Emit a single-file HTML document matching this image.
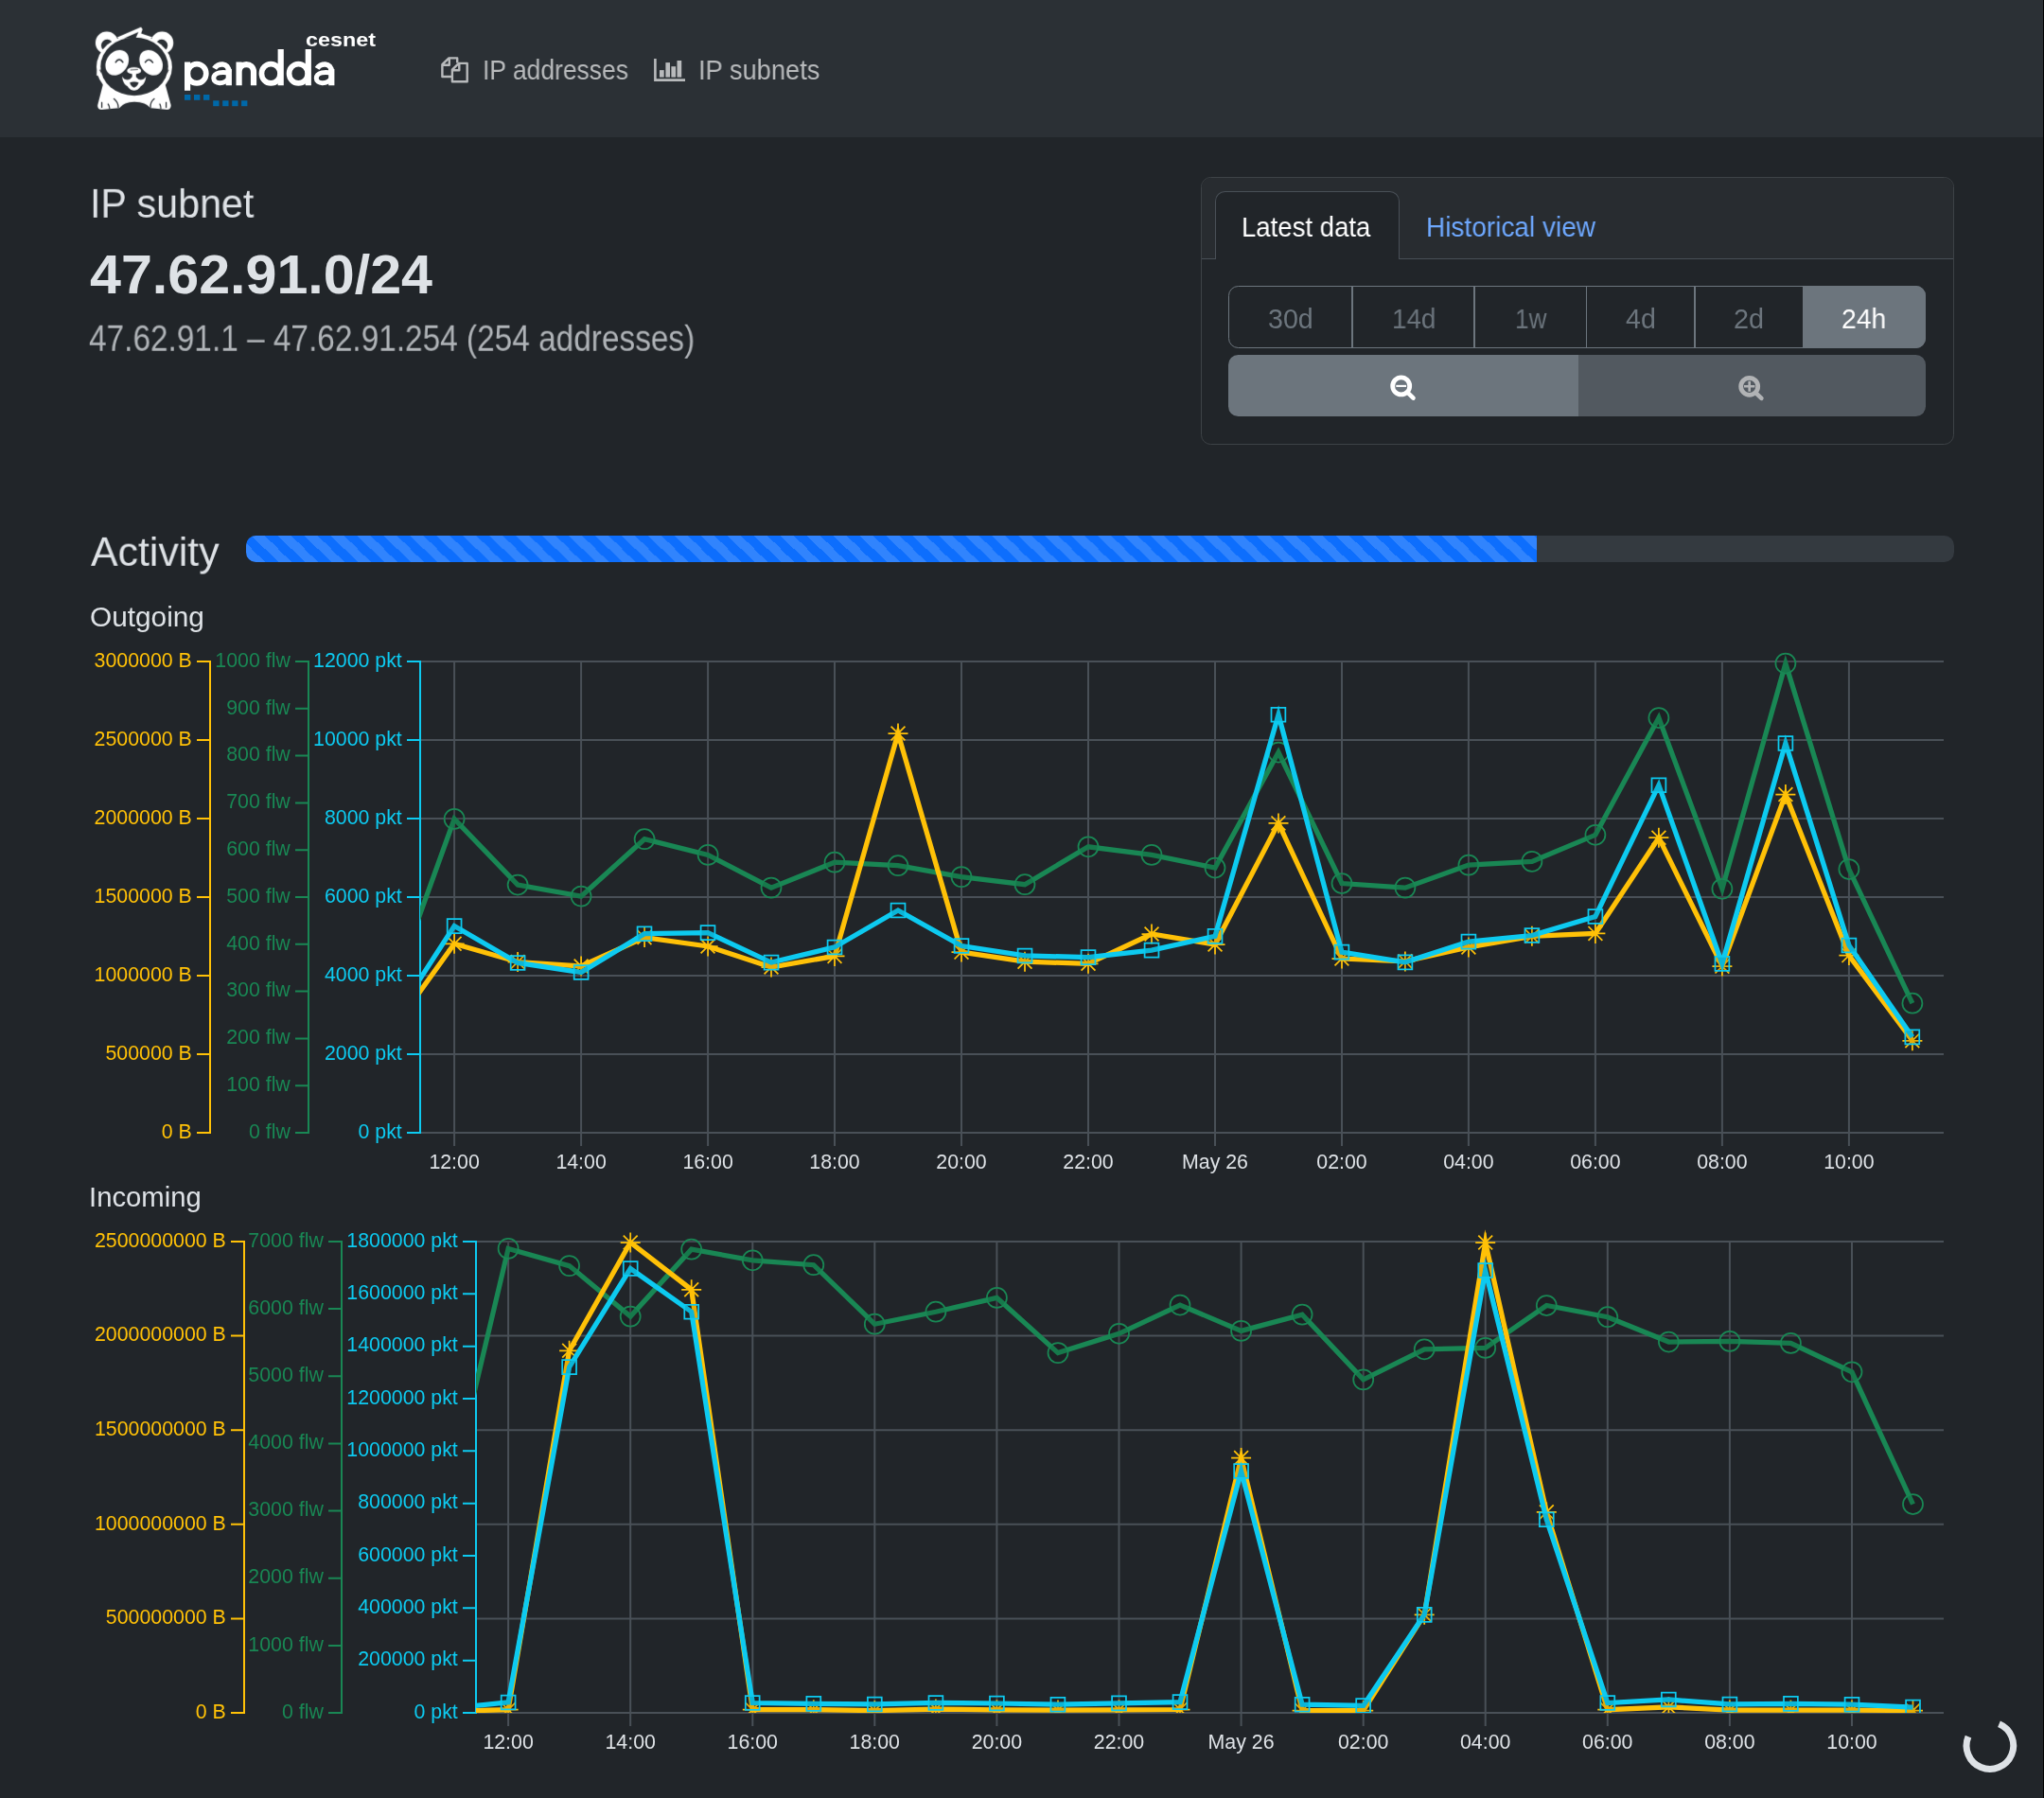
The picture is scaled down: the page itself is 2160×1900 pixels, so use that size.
<!DOCTYPE html>
<html lang="en"><head><meta charset="utf-8"><title>PANDDA - IP subnet 47.62.91.0/24</title>
<style>
html,body{margin:0;padding:0;}
body{width:2160px;height:1900px;background:#212529;position:relative;overflow:hidden;font-family:"Liberation Sans", sans-serif;color:#dee2e6;}
.abs{position:absolute;}
.t{position:absolute;display:block;margin:0;padding:0;font-weight:normal;text-decoration:none;white-space:nowrap;line-height:1;transform-origin:0 0;will-change:transform;}
nav{position:absolute;left:0;top:0;width:2160px;height:145px;background:#2b3035;}
.card{position:absolute;left:1269px;top:187px;width:794px;height:281px;border:1px solid #3d4246;border-radius:10.5px;box-sizing:content-box;}
.card-header{position:absolute;left:0;top:0;width:794px;height:85px;background:#282c30;border-bottom:1px solid #495057;border-radius:9.5px 9.5px 0 0;}
.tab-active{position:absolute;left:14px;top:14px;width:193px;height:71px;background:#212529;border:1px solid #495057;border-bottom:none;border-radius:10.5px 10.5px 0 0;}
.bg{position:absolute;left:1298px;top:302px;width:737px;height:66px;box-sizing:border-box;border:1px solid #6c757d;border-radius:10.5px;}
.bg i{position:absolute;top:0;width:2px;height:64px;background:#6c757d;}
.bg b{position:absolute;left:606px;top:-1px;width:130px;height:66px;background:#6c757d;border-radius:0 10.5px 10.5px 0;}
.zo{position:absolute;left:1298px;top:375px;width:370px;height:65px;background:#6c757d;border-radius:10.5px 0 0 10.5px;}
.zi{position:absolute;left:1668px;top:375px;width:367px;height:65px;background:#525960;border-radius:0 10.5px 10.5px 0;}
.progress{position:absolute;left:260px;top:566px;width:1805px;height:28px;background:#343a40;border-radius:10.5px;overflow:hidden;}
.bar{width:1364px;height:28px;background-color:#0d6efd;background-image:linear-gradient(45deg,rgba(255,255,255,.15) 25%,transparent 25%,transparent 50%,rgba(255,255,255,.15) 50%,rgba(255,255,255,.15) 75%,transparent 75%,transparent);background-size:27.96px 28px;background-position:6px 0;}
svg{position:absolute;left:0;top:0;will-change:transform;}
svg text{font-family:"Liberation Sans", sans-serif;}
.edge{position:absolute;left:2159px;top:0;width:1px;height:1900px;background:#000;}
</style></head>
<body>
<nav></nav>
<div class="card"><div class="card-header"><div class="tab-active"></div></div></div>
<div class="bg"><i style="left:129px"></i><i style="left:258px"></i><i style="left:377px;width:1px"></i><i style="left:491px"></i><b></b></div>
<div class="zo"></div><div class="zi"></div>
<div class="progress"><div class="bar"></div></div>
<svg width="2160" height="1900" viewBox="0 0 2160 1900">
<!-- panda logo -->
<svg x="90" y="20" width="110" height="105" viewBox="0 0 1884 1798">
<g fill="#fff">
<circle cx="390" cy="431" r="204"/><circle cx="1392" cy="431" r="204"/>
</g>
<g fill="#2b3035"><circle cx="398" cy="478" r="108"/><circle cx="1384" cy="478" r="108"/></g>
<g fill="#fff">
<path d="M575 335L1000 150Q1030 150 1038 190L1012 262L1215 330L1100 420L700 420Z"/>
<ellipse cx="888" cy="868" rx="684" ry="572"/>
<path d="M330 1150L1440 1150L1552 1560Q1556 1640 1480 1640L1180 1612Q1100 1500 890 1500Q700 1500 620 1612L300 1642Q215 1640 225 1560Z"/>
<path d="M215 930L205 1020L260 1040L270 940Z"/>
</g>
<g fill="#2b3035">
<ellipse cx="890" cy="860" rx="612" ry="526"/>
<path d="M700 352L964 236L918 338Z"/>
<path d="M275 900L300 1000L262 930Z"/><path d="M1500 900L1478 1000L1512 930Z"/>
</g>
<g fill="#fff">
<ellipse cx="577" cy="790" rx="193" ry="246" transform="rotate(35 577 790)"/>
<ellipse cx="1192" cy="790" rx="193" ry="246" transform="rotate(-35 1192 790)"/>
<ellipse cx="885" cy="937" rx="128" ry="63"/>
<path d="M850 985H920V1070H850Z"/>
<path d="M668 1040C700 1095 760 1112 805 1092L850 1050L920 1050L965 1092C1010 1112 1070 1095 1100 1040C1092 1140 1045 1200 1005 1215C965 1280 925 1292 885 1292C845 1292 805 1280 765 1215C725 1200 676 1140 668 1040Z"/>
</g>
<g fill="#2b3035"><path d="M806 1152Q885 1118 968 1152Q940 1226 885 1242Q830 1226 806 1152Z"/></g>
<g fill="none" stroke="#2b3035" stroke-linecap="round">
<path d="M552 782Q615 690 680 780" stroke-width="28"/>
<path d="M1088 782Q1152 690 1222 786" stroke-width="28"/>
<path d="M822 921L948 914" stroke-width="14"/>
<path d="M520 1445Q600 1510 598 1600M300 1510V1600M415 1540Q440 1580 440 1620" stroke-width="22"/>
<path d="M1250 1445Q1170 1510 1182 1600M1465 1510V1600M1352 1540Q1370 1580 1368 1620" stroke-width="22"/>
</g>
</svg>
<!-- cesnet dots -->
<g fill="#0068a8">
<rect x="195" y="100" width="6.4" height="5.8"/><rect x="205" y="100" width="6.4" height="5.8"/><rect x="215" y="100" width="6.4" height="5.8"/>
<rect x="225.2" y="106.3" width="6.3" height="5.9"/><rect x="235.2" y="106.3" width="6.3" height="5.9"/><rect x="245.2" y="106.3" width="6.3" height="5.9"/><rect x="255.1" y="106.3" width="6.3" height="5.9"/>
</g>
<!-- copy icon -->
<g fill="none" stroke="#b8babc" stroke-width="2.4" stroke-linejoin="round">
<path d="M477.5 81H467.4V68.2L474.4 61.4H483.2V66.5M467.4 68.8H474.8V61.6"/>
<path d="M477.9 86.3V73.6L484.9 66.9H493.7V86.3ZM477.9 74.2H485.3V67"/>
</g>
<!-- bar chart icon -->
<path d="M692.4 62V84.6H724" fill="none" stroke="#b8babc" stroke-width="2.6"/>
<g fill="#b8babc"><rect x="697" y="74.1" width="4.7" height="7.5"/><rect x="703.4" y="66.1" width="4.6" height="15.5"/><rect x="709.4" y="70.2" width="4.7" height="11.4"/><rect x="715.5" y="64" width="4.7" height="17.6"/></g>
<!-- zoom out / zoom in icons -->
<g fill="none" stroke="#fff" stroke-linecap="round">
<circle cx="1480.7" cy="407.9" r="9" stroke-width="4.8"/><path d="M1487.6 414.9L1493.5 420.6" stroke-width="4.6"/><path d="M1475.3 407.9H1486.1" stroke-width="2.1" stroke-linecap="butt"/>
</g>
<g fill="none" stroke="#b1b3b5" stroke-linecap="round">
<circle cx="1848.7" cy="408.3" r="9" stroke-width="4.8"/><path d="M1855.6 415.3L1861.4 420.9" stroke-width="4.6"/><path d="M1843 408.3H1854.4M1848.7 402.8V413.8" stroke-width="2.6" stroke-linecap="butt"/>
</g>
<!-- pandda wordmark -->
<g fill="none" stroke="#fff"><path d="M198.1 65.6V95.7M252.6 65.6V90.3M252.6 76C252.6 65.4 268 65.4 268 76V90.3M296.7 52.1V90.3M325.8 52.1V90.3M241.8 73V90.3M350.3 73V90.3" stroke-width="6.2"/><path d="M198.2 77.75a9.8 10.2 0 1 0 19.6 0a9.8 10.2 0 1 0 -19.6 0M276.45 77.75a9.8 10.2 0 1 0 19.6 0a9.8 10.2 0 1 0 -19.6 0M305.55 77.75a9.8 10.2 0 1 0 19.6 0a9.8 10.2 0 1 0 -19.6 0" stroke-width="5.7"/><path d="M226.6 72.4C229.8 66.8 241.8 65.2 241.8 76M335.1 72.4C338.3 66.8 350.3 65.2 350.3 76" stroke-width="5.6"/><path d="M241.8 77.2C236 75.7 225.8 76.1 225.8 82.7C225.8 88.9 237 89.7 241.8 82.6M350.3 77.2C344.5 75.7 334.3 76.1 334.3 82.7C334.3 88.9 345.5 89.7 350.3 82.6" stroke-width="5"/></g>

<g font-size="21.35">
<path d="M444 699H2054M444 782H2054M444 865H2054M444 948H2054M444 1031H2054M444 1114H2054M444 1197H2054M480.1 698V1211M614.1 698V1211M748.1 698V1211M882 698V1211M1016 698V1211M1150 698V1211M1284 698V1211M1418 698V1211M1551.9 698V1211M1685.9 698V1211M1819.9 698V1211M1953.9 698V1211" stroke="#495057" stroke-width="2" fill="none"/>
<text x="480.1" y="1234.8" text-anchor="middle" fill="#dee2e6">12:00</text>
<text x="614.1" y="1234.8" text-anchor="middle" fill="#dee2e6">14:00</text>
<text x="748.1" y="1234.8" text-anchor="middle" fill="#dee2e6">16:00</text>
<text x="882" y="1234.8" text-anchor="middle" fill="#dee2e6">18:00</text>
<text x="1016" y="1234.8" text-anchor="middle" fill="#dee2e6">20:00</text>
<text x="1150" y="1234.8" text-anchor="middle" fill="#dee2e6">22:00</text>
<text x="1284" y="1234.8" text-anchor="middle" fill="#dee2e6">May 26</text>
<text x="1418" y="1234.8" text-anchor="middle" fill="#dee2e6">02:00</text>
<text x="1551.9" y="1234.8" text-anchor="middle" fill="#dee2e6">04:00</text>
<text x="1685.9" y="1234.8" text-anchor="middle" fill="#dee2e6">06:00</text>
<text x="1819.9" y="1234.8" text-anchor="middle" fill="#dee2e6">08:00</text>
<text x="1953.9" y="1234.8" text-anchor="middle" fill="#dee2e6">10:00</text>
<path d="M222 698V1198M208 699H222M208 782H222M208 865H222M208 948H222M208 1031H222M208 1114H222M208 1197H222" stroke="#ffc107" stroke-width="2" fill="none"/>
<text x="202.8" y="704.7" text-anchor="end" fill="#ffc107">3000000 B</text>
<text x="202.8" y="787.7" text-anchor="end" fill="#ffc107">2500000 B</text>
<text x="202.8" y="870.7" text-anchor="end" fill="#ffc107">2000000 B</text>
<text x="202.8" y="953.7" text-anchor="end" fill="#ffc107">1500000 B</text>
<text x="202.8" y="1036.7" text-anchor="end" fill="#ffc107">1000000 B</text>
<text x="202.8" y="1119.7" text-anchor="end" fill="#ffc107">500000 B</text>
<text x="202.8" y="1202.7" text-anchor="end" fill="#ffc107">0 B</text>
<path d="M326 698V1198M312 699H326M312 748.8H326M312 798.6H326M312 848.4H326M312 898.2H326M312 948H326M312 997.8H326M312 1047.6H326M312 1097.4H326M312 1147.2H326M312 1197H326" stroke="#198754" stroke-width="2" fill="none"/>
<text x="306.8" y="704.7" text-anchor="end" fill="#198754">1000 flw</text>
<text x="306.8" y="754.5" text-anchor="end" fill="#198754">900 flw</text>
<text x="306.8" y="804.3" text-anchor="end" fill="#198754">800 flw</text>
<text x="306.8" y="854.1" text-anchor="end" fill="#198754">700 flw</text>
<text x="306.8" y="903.9" text-anchor="end" fill="#198754">600 flw</text>
<text x="306.8" y="953.7" text-anchor="end" fill="#198754">500 flw</text>
<text x="306.8" y="1003.5" text-anchor="end" fill="#198754">400 flw</text>
<text x="306.8" y="1053.3" text-anchor="end" fill="#198754">300 flw</text>
<text x="306.8" y="1103.1" text-anchor="end" fill="#198754">200 flw</text>
<text x="306.8" y="1152.9" text-anchor="end" fill="#198754">100 flw</text>
<text x="306.8" y="1202.7" text-anchor="end" fill="#198754">0 flw</text>
<path d="M444 698V1198M430 699H444M430 782H444M430 865H444M430 948H444M430 1031H444M430 1114H444M430 1197H444" stroke="#0dcaf0" stroke-width="2" fill="none"/>
<text x="424.8" y="704.7" text-anchor="end" fill="#0dcaf0">12000 pkt</text>
<text x="424.8" y="787.7" text-anchor="end" fill="#0dcaf0">10000 pkt</text>
<text x="424.8" y="870.7" text-anchor="end" fill="#0dcaf0">8000 pkt</text>
<text x="424.8" y="953.7" text-anchor="end" fill="#0dcaf0">6000 pkt</text>
<text x="424.8" y="1036.7" text-anchor="end" fill="#0dcaf0">4000 pkt</text>
<text x="424.8" y="1119.7" text-anchor="end" fill="#0dcaf0">2000 pkt</text>
<text x="424.8" y="1202.7" text-anchor="end" fill="#0dcaf0">0 pkt</text>
<clipPath id="clip1"><rect x="444" y="679" width="1610" height="518"/></clipPath>
<g clip-path="url(#clip1)" fill="none" stroke-linejoin="miter" stroke-miterlimit="10">
<polyline points="413.1,1051.2 480.1,865.4 547.1,935 614.1,947.1 681.1,886.7 748.1,903.4 815,938.1 882,911.2 949,914.7 1016,926.6 1083,934.7 1150,894.8 1217,903.4 1284,917 1351,795 1418,933.5 1484.9,938.1 1551.9,914.1 1618.9,910.4 1685.9,882.3 1752.9,758.5 1819.9,939.3 1886.9,701 1953.9,918.5 2020.9,1060.2" stroke="#198754" stroke-width="5.25"/>
<path d="M469.6 865.4a10.5 10.5 0 1 0 21 0a10.5 10.5 0 1 0 -21 0M536.6 935a10.5 10.5 0 1 0 21 0a10.5 10.5 0 1 0 -21 0M603.6 947.1a10.5 10.5 0 1 0 21 0a10.5 10.5 0 1 0 -21 0M670.6 886.7a10.5 10.5 0 1 0 21 0a10.5 10.5 0 1 0 -21 0M737.6 903.4a10.5 10.5 0 1 0 21 0a10.5 10.5 0 1 0 -21 0M804.5 938.1a10.5 10.5 0 1 0 21 0a10.5 10.5 0 1 0 -21 0M871.5 911.2a10.5 10.5 0 1 0 21 0a10.5 10.5 0 1 0 -21 0M938.5 914.7a10.5 10.5 0 1 0 21 0a10.5 10.5 0 1 0 -21 0M1005.5 926.6a10.5 10.5 0 1 0 21 0a10.5 10.5 0 1 0 -21 0M1072.5 934.7a10.5 10.5 0 1 0 21 0a10.5 10.5 0 1 0 -21 0M1139.5 894.8a10.5 10.5 0 1 0 21 0a10.5 10.5 0 1 0 -21 0M1206.5 903.4a10.5 10.5 0 1 0 21 0a10.5 10.5 0 1 0 -21 0M1273.5 917a10.5 10.5 0 1 0 21 0a10.5 10.5 0 1 0 -21 0M1340.5 795a10.5 10.5 0 1 0 21 0a10.5 10.5 0 1 0 -21 0M1407.5 933.5a10.5 10.5 0 1 0 21 0a10.5 10.5 0 1 0 -21 0M1474.4 938.1a10.5 10.5 0 1 0 21 0a10.5 10.5 0 1 0 -21 0M1541.4 914.1a10.5 10.5 0 1 0 21 0a10.5 10.5 0 1 0 -21 0M1608.4 910.4a10.5 10.5 0 1 0 21 0a10.5 10.5 0 1 0 -21 0M1675.4 882.3a10.5 10.5 0 1 0 21 0a10.5 10.5 0 1 0 -21 0M1742.4 758.5a10.5 10.5 0 1 0 21 0a10.5 10.5 0 1 0 -21 0M1809.4 939.3a10.5 10.5 0 1 0 21 0a10.5 10.5 0 1 0 -21 0M1876.4 701a10.5 10.5 0 1 0 21 0a10.5 10.5 0 1 0 -21 0M1943.4 918.5a10.5 10.5 0 1 0 21 0a10.5 10.5 0 1 0 -21 0M2010.4 1060.2a10.5 10.5 0 1 0 21 0a10.5 10.5 0 1 0 -21 0" stroke="#198754" stroke-width="1.75" fill="rgba(0,0,0,.1)"/>
<polyline points="413.1,1090.6 480.1,997.3 547.1,1016.5 614.1,1021 681.1,990.6 748.1,1000 815,1022 882,1010.4 949,775 1016,1006.1 1083,1016.2 1150,1018.3 1217,987 1284,998 1351,869.9 1418,1013 1484.9,1015.9 1551.9,1000.9 1618.9,989.3 1685.9,986.4 1752.9,885.2 1819.9,1021.1 1886.9,839.5 1953.9,1009.6 2020.9,1099.8" stroke="#ffc107" stroke-width="5.25"/>
<path d="M469.6 997.3h21M480.1 986.8v21M472.7 989.9l14.84 14.84M472.7 1004.7l14.84 -14.84M536.6 1016.5h21M547.1 1006v21M539.7 1009.1l14.84 14.84M539.7 1023.9l14.84 -14.84M603.6 1021h21M614.1 1010.5v21M606.7 1013.6l14.84 14.84M606.7 1028.4l14.84 -14.84M670.6 990.6h21M681.1 980.1v21M673.6 983.2l14.84 14.84M673.6 998l14.84 -14.84M737.6 1000h21M748.1 989.5v21M740.6 992.6l14.84 14.84M740.6 1007.4l14.84 -14.84M804.5 1022h21M815 1011.5v21M807.6 1014.6l14.84 14.84M807.6 1029.4l14.84 -14.84M871.5 1010.4h21M882 999.9v21M874.6 1003l14.84 14.84M874.6 1017.8l14.84 -14.84M938.5 775h21M949 764.5v21M941.6 767.6l14.84 14.84M941.6 782.4l14.84 -14.84M1005.5 1006.1h21M1016 995.6v21M1008.6 998.7l14.84 14.84M1008.6 1013.5l14.84 -14.84M1072.5 1016.2h21M1083 1005.7v21M1075.6 1008.8l14.84 14.84M1075.6 1023.6l14.84 -14.84M1139.5 1018.3h21M1150 1007.8v21M1142.6 1010.9l14.84 14.84M1142.6 1025.7l14.84 -14.84M1206.5 987h21M1217 976.5v21M1209.6 979.6l14.84 14.84M1209.6 994.4l14.84 -14.84M1273.5 998h21M1284 987.5v21M1276.6 990.6l14.84 14.84M1276.6 1005.4l14.84 -14.84M1340.5 869.9h21M1351 859.4v21M1343.5 862.5l14.84 14.84M1343.5 877.3l14.84 -14.84M1407.5 1013h21M1418 1002.5v21M1410.5 1005.6l14.84 14.84M1410.5 1020.4l14.84 -14.84M1474.4 1015.9h21M1484.9 1005.4v21M1477.5 1008.5l14.84 14.84M1477.5 1023.3l14.84 -14.84M1541.4 1000.9h21M1551.9 990.4v21M1544.5 993.5l14.84 14.84M1544.5 1008.3l14.84 -14.84M1608.4 989.3h21M1618.9 978.8v21M1611.5 981.9l14.84 14.84M1611.5 996.7l14.84 -14.84M1675.4 986.4h21M1685.9 975.9v21M1678.5 979l14.84 14.84M1678.5 993.8l14.84 -14.84M1742.4 885.2h21M1752.9 874.7v21M1745.5 877.8l14.84 14.84M1745.5 892.6l14.84 -14.84M1809.4 1021.1h21M1819.9 1010.6v21M1812.5 1013.7l14.84 14.84M1812.5 1028.5l14.84 -14.84M1876.4 839.5h21M1886.9 829v21M1879.5 832.1l14.84 14.84M1879.5 846.9l14.84 -14.84M1943.4 1009.6h21M1953.9 999.1v21M1946.5 1002.2l14.84 14.84M1946.5 1017l14.84 -14.84M2010.4 1099.8h21M2020.9 1089.3v21M2013.4 1092.4l14.84 14.84M2013.4 1107.2l14.84 -14.84" stroke="#ffc107" stroke-width="1.75"/>
<polyline points="413.1,1081.8 480.1,978.6 547.1,1017.4 614.1,1027.5 681.1,986.7 748.1,985.6 815,1017.1 882,1000.9 949,961.9 1016,999.5 1083,1009.9 1150,1011.6 1217,1004.1 1284,989.3 1351,755.2 1418,1006.1 1484.9,1016.8 1551.9,995.1 1618.9,988.5 1685.9,968.5 1752.9,829.7 1819.9,1018.3 1886.9,785.4 1953.9,998.9 2020.9,1095.8" stroke="#0dcaf0" stroke-width="5.25"/>
<path d="M472.7 971.2h14.85v14.85h-14.85zM539.7 1010h14.85v14.85h-14.85zM606.7 1020.1h14.85v14.85h-14.85zM673.6 979.3h14.85v14.85h-14.85zM740.6 978.2h14.85v14.85h-14.85zM807.6 1009.7h14.85v14.85h-14.85zM874.6 993.5h14.85v14.85h-14.85zM941.6 954.5h14.85v14.85h-14.85zM1008.6 992.1h14.85v14.85h-14.85zM1075.6 1002.5h14.85v14.85h-14.85zM1142.6 1004.2h14.85v14.85h-14.85zM1209.6 996.7h14.85v14.85h-14.85zM1276.6 981.9h14.85v14.85h-14.85zM1343.5 747.8h14.85v14.85h-14.85zM1410.5 998.7h14.85v14.85h-14.85zM1477.5 1009.4h14.85v14.85h-14.85zM1544.5 987.7h14.85v14.85h-14.85zM1611.5 981.1h14.85v14.85h-14.85zM1678.5 961.1h14.85v14.85h-14.85zM1745.5 822.3h14.85v14.85h-14.85zM1812.5 1010.9h14.85v14.85h-14.85zM1879.5 778h14.85v14.85h-14.85zM1946.5 991.5h14.85v14.85h-14.85zM2013.4 1088.4h14.85v14.85h-14.85z" stroke="#0dcaf0" stroke-width="1.75" fill="rgba(0,0,0,.1)"/>
</g>
</g>
<g font-size="21.35">
<path d="M503 1312H2054M503 1411.6H2054M503 1511.2H2054M503 1610.8H2054M503 1710.4H2054M503 1810H2054M537.1 1311V1824M666.2 1311V1824M795.3 1311V1824M924.3 1311V1824M1053.4 1311V1824M1182.5 1311V1824M1311.6 1311V1824M1440.7 1311V1824M1569.7 1311V1824M1698.8 1311V1824M1827.9 1311V1824M1957 1311V1824" stroke="#495057" stroke-width="2" fill="none"/>
<text x="537.1" y="1847.8" text-anchor="middle" fill="#dee2e6">12:00</text>
<text x="666.2" y="1847.8" text-anchor="middle" fill="#dee2e6">14:00</text>
<text x="795.3" y="1847.8" text-anchor="middle" fill="#dee2e6">16:00</text>
<text x="924.3" y="1847.8" text-anchor="middle" fill="#dee2e6">18:00</text>
<text x="1053.4" y="1847.8" text-anchor="middle" fill="#dee2e6">20:00</text>
<text x="1182.5" y="1847.8" text-anchor="middle" fill="#dee2e6">22:00</text>
<text x="1311.6" y="1847.8" text-anchor="middle" fill="#dee2e6">May 26</text>
<text x="1440.7" y="1847.8" text-anchor="middle" fill="#dee2e6">02:00</text>
<text x="1569.7" y="1847.8" text-anchor="middle" fill="#dee2e6">04:00</text>
<text x="1698.8" y="1847.8" text-anchor="middle" fill="#dee2e6">06:00</text>
<text x="1827.9" y="1847.8" text-anchor="middle" fill="#dee2e6">08:00</text>
<text x="1957" y="1847.8" text-anchor="middle" fill="#dee2e6">10:00</text>
<path d="M258 1311V1811M244 1312H258M244 1411.6H258M244 1511.2H258M244 1610.8H258M244 1710.4H258M244 1810H258" stroke="#ffc107" stroke-width="2" fill="none"/>
<text x="238.8" y="1317.7" text-anchor="end" fill="#ffc107">2500000000 B</text>
<text x="238.8" y="1417.3" text-anchor="end" fill="#ffc107">2000000000 B</text>
<text x="238.8" y="1516.9" text-anchor="end" fill="#ffc107">1500000000 B</text>
<text x="238.8" y="1616.5" text-anchor="end" fill="#ffc107">1000000000 B</text>
<text x="238.8" y="1716.1" text-anchor="end" fill="#ffc107">500000000 B</text>
<text x="238.8" y="1815.7" text-anchor="end" fill="#ffc107">0 B</text>
<path d="M361 1311V1811M347 1312H361M347 1383.1H361M347 1454.3H361M347 1525.4H361M347 1596.6H361M347 1667.7H361M347 1738.9H361M347 1810H361" stroke="#198754" stroke-width="2" fill="none"/>
<text x="341.8" y="1317.7" text-anchor="end" fill="#198754">7000 flw</text>
<text x="341.8" y="1388.8" text-anchor="end" fill="#198754">6000 flw</text>
<text x="341.8" y="1460" text-anchor="end" fill="#198754">5000 flw</text>
<text x="341.8" y="1531.1" text-anchor="end" fill="#198754">4000 flw</text>
<text x="341.8" y="1602.3" text-anchor="end" fill="#198754">3000 flw</text>
<text x="341.8" y="1673.4" text-anchor="end" fill="#198754">2000 flw</text>
<text x="341.8" y="1744.6" text-anchor="end" fill="#198754">1000 flw</text>
<text x="341.8" y="1815.7" text-anchor="end" fill="#198754">0 flw</text>
<path d="M503 1311V1811M489 1312H503M489 1367.3H503M489 1422.7H503M489 1478H503M489 1533.3H503M489 1588.7H503M489 1644H503M489 1699.3H503M489 1754.7H503M489 1810H503" stroke="#0dcaf0" stroke-width="2" fill="none"/>
<text x="483.8" y="1317.7" text-anchor="end" fill="#0dcaf0">1800000 pkt</text>
<text x="483.8" y="1373" text-anchor="end" fill="#0dcaf0">1600000 pkt</text>
<text x="483.8" y="1428.4" text-anchor="end" fill="#0dcaf0">1400000 pkt</text>
<text x="483.8" y="1483.7" text-anchor="end" fill="#0dcaf0">1200000 pkt</text>
<text x="483.8" y="1539" text-anchor="end" fill="#0dcaf0">1000000 pkt</text>
<text x="483.8" y="1594.4" text-anchor="end" fill="#0dcaf0">800000 pkt</text>
<text x="483.8" y="1649.7" text-anchor="end" fill="#0dcaf0">600000 pkt</text>
<text x="483.8" y="1705" text-anchor="end" fill="#0dcaf0">400000 pkt</text>
<text x="483.8" y="1760.4" text-anchor="end" fill="#0dcaf0">200000 pkt</text>
<text x="483.8" y="1815.7" text-anchor="end" fill="#0dcaf0">0 pkt</text>
<clipPath id="clip2"><rect x="503" y="1292" width="1551" height="518"/></clipPath>
<g clip-path="url(#clip2)" fill="none" stroke-linejoin="miter" stroke-miterlimit="10">
<polyline points="472.6,1591.9 537.1,1319.4 601.6,1337.6 666.2,1391.1 730.7,1320.2 795.3,1331.8 859.8,1336.7 924.3,1399.2 988.9,1386.2 1053.4,1371.4 1118,1429.6 1182.5,1409.3 1247,1379 1311.6,1406.4 1376.1,1389.1 1440.7,1457.9 1505.2,1425.8 1569.7,1424.4 1634.3,1379.5 1698.8,1391.7 1763.4,1418 1827.9,1417.4 1892.4,1419.4 1957,1449.8 2021.5,1589.5" stroke="#198754" stroke-width="5.25"/>
<path d="M526.6 1319.4a10.5 10.5 0 1 0 21 0a10.5 10.5 0 1 0 -21 0M591.1 1337.6a10.5 10.5 0 1 0 21 0a10.5 10.5 0 1 0 -21 0M655.7 1391.1a10.5 10.5 0 1 0 21 0a10.5 10.5 0 1 0 -21 0M720.2 1320.2a10.5 10.5 0 1 0 21 0a10.5 10.5 0 1 0 -21 0M784.8 1331.8a10.5 10.5 0 1 0 21 0a10.5 10.5 0 1 0 -21 0M849.3 1336.7a10.5 10.5 0 1 0 21 0a10.5 10.5 0 1 0 -21 0M913.8 1399.2a10.5 10.5 0 1 0 21 0a10.5 10.5 0 1 0 -21 0M978.4 1386.2a10.5 10.5 0 1 0 21 0a10.5 10.5 0 1 0 -21 0M1042.9 1371.4a10.5 10.5 0 1 0 21 0a10.5 10.5 0 1 0 -21 0M1107.5 1429.6a10.5 10.5 0 1 0 21 0a10.5 10.5 0 1 0 -21 0M1172 1409.3a10.5 10.5 0 1 0 21 0a10.5 10.5 0 1 0 -21 0M1236.5 1379a10.5 10.5 0 1 0 21 0a10.5 10.5 0 1 0 -21 0M1301.1 1406.4a10.5 10.5 0 1 0 21 0a10.5 10.5 0 1 0 -21 0M1365.6 1389.1a10.5 10.5 0 1 0 21 0a10.5 10.5 0 1 0 -21 0M1430.2 1457.9a10.5 10.5 0 1 0 21 0a10.5 10.5 0 1 0 -21 0M1494.7 1425.8a10.5 10.5 0 1 0 21 0a10.5 10.5 0 1 0 -21 0M1559.2 1424.4a10.5 10.5 0 1 0 21 0a10.5 10.5 0 1 0 -21 0M1623.8 1379.5a10.5 10.5 0 1 0 21 0a10.5 10.5 0 1 0 -21 0M1688.3 1391.7a10.5 10.5 0 1 0 21 0a10.5 10.5 0 1 0 -21 0M1752.9 1418a10.5 10.5 0 1 0 21 0a10.5 10.5 0 1 0 -21 0M1817.4 1417.4a10.5 10.5 0 1 0 21 0a10.5 10.5 0 1 0 -21 0M1881.9 1419.4a10.5 10.5 0 1 0 21 0a10.5 10.5 0 1 0 -21 0M1946.5 1449.8a10.5 10.5 0 1 0 21 0a10.5 10.5 0 1 0 -21 0M2011 1589.5a10.5 10.5 0 1 0 21 0a10.5 10.5 0 1 0 -21 0" stroke="#198754" stroke-width="1.75" fill="rgba(0,0,0,.1)"/>
<polyline points="472.6,1808.4 537.1,1806.7 601.6,1427.3 666.2,1313 730.7,1362.8 795.3,1806.7 859.8,1806.7 924.3,1807.6 988.9,1806.1 1053.4,1806.8 1118,1807 1182.5,1806.8 1247,1806.5 1311.6,1540.6 1376.1,1807.6 1440.7,1807.6 1505.2,1706.3 1569.7,1313 1634.3,1597.9 1698.8,1806.7 1763.4,1803.8 1827.9,1807 1892.4,1807 1957,1807 2021.5,1807.6" stroke="#ffc107" stroke-width="5.25"/>
<path d="M526.6 1806.7h21M537.1 1796.2v21M529.7 1799.3l14.84 14.84M529.7 1814.1l14.84 -14.84M591.1 1427.3h21M601.6 1416.8v21M594.2 1419.9l14.84 14.84M594.2 1434.7l14.84 -14.84M655.7 1313h21M666.2 1302.5v21M658.8 1305.6l14.84 14.84M658.8 1320.4l14.84 -14.84M720.2 1362.8h21M730.7 1352.3v21M723.3 1355.4l14.84 14.84M723.3 1370.2l14.84 -14.84M784.8 1806.7h21M795.3 1796.2v21M787.8 1799.3l14.84 14.84M787.8 1814.1l14.84 -14.84M849.3 1806.7h21M859.8 1796.2v21M852.4 1799.3l14.84 14.84M852.4 1814.1l14.84 -14.84M913.8 1807.6h21M924.3 1797.1v21M916.9 1800.2l14.84 14.84M916.9 1815l14.84 -14.84M978.4 1806.1h21M988.9 1795.6v21M981.5 1798.7l14.84 14.84M981.5 1813.5l14.84 -14.84M1042.9 1806.8h21M1053.4 1796.3v21M1046 1799.4l14.84 14.84M1046 1814.2l14.84 -14.84M1107.5 1807h21M1118 1796.5v21M1110.5 1799.6l14.84 14.84M1110.5 1814.4l14.84 -14.84M1172 1806.8h21M1182.5 1796.3v21M1175.1 1799.4l14.84 14.84M1175.1 1814.2l14.84 -14.84M1236.5 1806.5h21M1247 1796v21M1239.6 1799.1l14.84 14.84M1239.6 1813.9l14.84 -14.84M1301.1 1540.6h21M1311.6 1530.1v21M1304.2 1533.2l14.84 14.84M1304.2 1548l14.84 -14.84M1365.6 1807.6h21M1376.1 1797.1v21M1368.7 1800.2l14.84 14.84M1368.7 1815l14.84 -14.84M1430.2 1807.6h21M1440.7 1797.1v21M1433.2 1800.2l14.84 14.84M1433.2 1815l14.84 -14.84M1494.7 1706.3h21M1505.2 1695.8v21M1497.8 1698.9l14.84 14.84M1497.8 1713.7l14.84 -14.84M1559.2 1313h21M1569.7 1302.5v21M1562.3 1305.6l14.84 14.84M1562.3 1320.4l14.84 -14.84M1623.8 1597.9h21M1634.3 1587.4v21M1626.9 1590.5l14.84 14.84M1626.9 1605.3l14.84 -14.84M1688.3 1806.7h21M1698.8 1796.2v21M1691.4 1799.3l14.84 14.84M1691.4 1814.1l14.84 -14.84M1752.9 1803.8h21M1763.4 1793.3v21M1755.9 1796.4l14.84 14.84M1755.9 1811.2l14.84 -14.84M1817.4 1807h21M1827.9 1796.5v21M1820.5 1799.6l14.84 14.84M1820.5 1814.4l14.84 -14.84M1881.9 1807h21M1892.4 1796.5v21M1885 1799.6l14.84 14.84M1885 1814.4l14.84 -14.84M1946.5 1807h21M1957 1796.5v21M1949.6 1799.6l14.84 14.84M1949.6 1814.4l14.84 -14.84M2011 1807.6h21M2021.5 1797.1v21M2014.1 1800.2l14.84 14.84M2014.1 1815l14.84 -14.84" stroke="#ffc107" stroke-width="1.75"/>
<polyline points="472.6,1805.5 537.1,1798.9 601.6,1444.6 666.2,1340.5 730.7,1386.2 795.3,1799.5 859.8,1800.3 924.3,1800.9 988.9,1799.5 1053.4,1800 1118,1801.2 1182.5,1799.8 1247,1798.6 1311.6,1554.5 1376.1,1801.2 1440.7,1802.4 1505.2,1706.3 1569.7,1342.5 1634.3,1605.7 1698.8,1799.5 1763.4,1796 1827.9,1800.9 1892.4,1800.3 1957,1801.2 2021.5,1804.1" stroke="#0dcaf0" stroke-width="5.25"/>
<path d="M529.7 1791.5h14.85v14.85h-14.85zM594.2 1437.2h14.85v14.85h-14.85zM658.8 1333.1h14.85v14.85h-14.85zM723.3 1378.8h14.85v14.85h-14.85zM787.8 1792.1h14.85v14.85h-14.85zM852.4 1792.9h14.85v14.85h-14.85zM916.9 1793.5h14.85v14.85h-14.85zM981.5 1792.1h14.85v14.85h-14.85zM1046 1792.6h14.85v14.85h-14.85zM1110.5 1793.8h14.85v14.85h-14.85zM1175.1 1792.4h14.85v14.85h-14.85zM1239.6 1791.2h14.85v14.85h-14.85zM1304.2 1547.1h14.85v14.85h-14.85zM1368.7 1793.8h14.85v14.85h-14.85zM1433.2 1795h14.85v14.85h-14.85zM1497.8 1698.9h14.85v14.85h-14.85zM1562.3 1335.1h14.85v14.85h-14.85zM1626.9 1598.3h14.85v14.85h-14.85zM1691.4 1792.1h14.85v14.85h-14.85zM1755.9 1788.6h14.85v14.85h-14.85zM1820.5 1793.5h14.85v14.85h-14.85zM1885 1792.9h14.85v14.85h-14.85zM1949.6 1793.8h14.85v14.85h-14.85zM2014.1 1796.7h14.85v14.85h-14.85z" stroke="#0dcaf0" stroke-width="1.75" fill="rgba(0,0,0,.1)"/>
</g>
</g>
<!-- spinner -->
<path d="M2112.5 1821.8A24.8 24.8 0 1 1 2080 1835.1" stroke="#dee2e6" stroke-width="7" fill="none"/>
</svg>
<h4 class="t" style="left:94.9px;top:195.2px;font-size:43.48px;color:#dee2e6;transform:scale(0.9481,0.9677);">IP subnet</h4>
<h1 class="t" style="left:95px;top:260.9px;font-size:57.14px;color:#dee2e6;font-weight:bold;transform:scale(1.0360,1.0166);">47.62.91.0/24</h1>
<p class="t" style="left:94.1px;top:339px;font-size:35.71px;color:#afb3b7;transform:scale(0.9348,1.0924);">47.62.91.1 – 47.62.91.254 (254 addresses)</p>
<h4 class="t" style="left:96.2px;top:562.7px;font-size:43.48px;color:#dee2e6;transform:scale(0.9847,0.9677);">Activity</h4>
<h6 class="t" style="left:94.6px;top:637.6px;font-size:28.99px;color:#dee2e6;transform:scale(1.0281,1.0000);">Outgoing</h6>
<h6 class="t" style="left:94px;top:1251.2px;font-size:28.99px;color:#dee2e6;transform:scale(1.0093,1.0000);">Incoming</h6>
<a class="t" style="left:509.5px;top:59.7px;font-size:28.99px;color:#b8babc;transform:scale(0.9129,1.0000);">IP addresses</a>
<a class="t" style="left:738px;top:59.7px;font-size:28.99px;color:#b8babc;transform:scale(0.9409,1.0000);">IP subnets</a>
<a class="t" style="left:1312.2px;top:226.2px;font-size:28.99px;color:#ffffff;transform:scale(0.9503,1.0000);">Latest data</a>
<a class="t" style="left:1507.2px;top:226.2px;font-size:28.99px;color:#6ea8fe;transform:scale(0.9664,1.0000);">Historical view</a>
<span class="t" style="left:1340px;top:322.1px;font-size:28.57px;color:#6c757d;transform:scale(1.0032,1.0521);">30d</span>
<span class="t" style="left:1470.9px;top:322.1px;font-size:28.57px;color:#6c757d;transform:scale(0.9717,1.0521);">14d</span>
<span class="t" style="left:1600.5px;top:322.1px;font-size:28.57px;color:#6c757d;transform:scale(0.9136,1.0521);">1w</span>
<span class="t" style="left:1717.5px;top:322.1px;font-size:28.57px;color:#6c757d;transform:scale(0.9999,1.0521);">4d</span>
<span class="t" style="left:1832.2px;top:322.1px;font-size:28.57px;color:#6c757d;transform:scale(1.0099,1.0521);">2d</span>
<span class="t" style="left:1946.3px;top:322.1px;font-size:28.57px;color:#ffffff;transform:scale(0.9902,1.0521);">24h</span>
<span class="t" style="left:322.9px;top:31.6px;font-size:20.57px;color:#ffffff;font-weight:bold;transform:scale(1.1359,0.9909);">cesnet</span>
<div class="edge"></div>
</body></html>
